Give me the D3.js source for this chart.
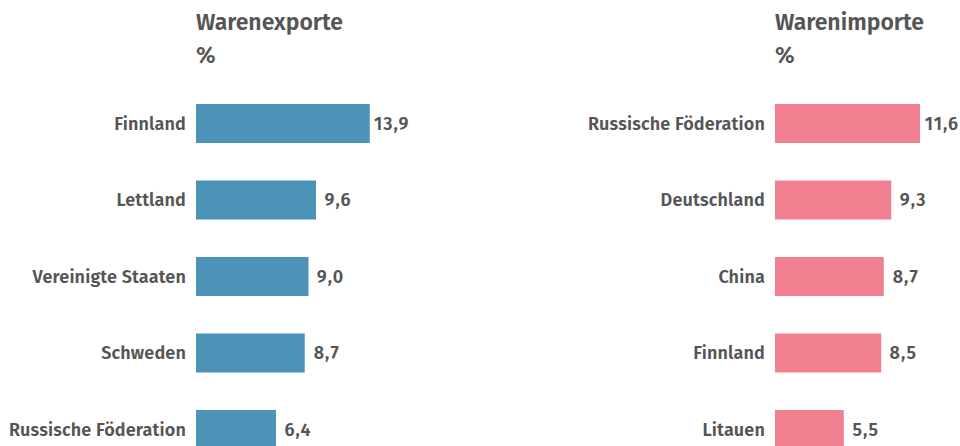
<!DOCTYPE html>
<html><head><meta charset="utf-8">
<script src="https://cdn.jsdelivr.net/npm/d3@7"></script>
<style>
body{margin:0;background:#fff;}
text{font-family:"Fira Sans","Open Sans",sans-serif;fill:#555;}
</style></head>
<body><svg id="c" width="960" height="446"></svg>
<script>
const exportCountries = ["Finnland","Lettland","Vereinigte Staaten","Schweden","Russische Föderation"];
const exportValues = [13.9, 9.6, 9.0, 8.7, 6.4];
const importCountries = ["Russische Föderation","Deutschland","China","Finnland","Litauen"];
const importValues = [11.6, 9.3, 8.7, 8.5, 5.5];
const titles = ["Warenexporte","Warenimporte"];
const unit = "%";
const colors = ["#4d93b8","#f08090"];

const svg = d3.select("#c");
const fmt = v => d3.format(".1f")(v).replace(".", ",");

function panel(x0, title, cats, vals, color){
  const g = svg.append("g");
  const x = d3.scaleLinear().domain([0, 1]).range([x0, x0 + 12.5]);
  const y = d3.scaleBand().domain(cats).range([104, 449]).paddingInner(0.49).paddingOuter(0);
  g.append("text").attr("x", x0).attr("y", 30).attr("font-size", 23).attr("font-weight", 600).text(title);
  g.append("text").attr("x", x0).attr("y", 63).attr("font-size", 23).attr("font-weight", 600).text(unit);
  cats.forEach((c, i) => {
    const yy = y(c);
    g.append("text").attr("x", x(0) - 10).attr("y", yy + y.bandwidth()/2).attr("dy", "0.35em")
      .attr("text-anchor", "end").attr("font-size", 18).attr("font-weight", 600).attr("letter-spacing", 0.15).text(c);
    g.append("rect").attr("x", x(0)).attr("y", yy).attr("width", x(vals[i]) - x(0)).attr("height", y.bandwidth()).attr("fill", color);
    g.append("text").attr("x", x(vals[i]) + 22).attr("y", yy + y.bandwidth()/2).attr("dy", "0.35em")
      .attr("text-anchor", "middle").attr("font-size", 18).attr("font-weight", 600).attr("letter-spacing", 1).text(fmt(vals[i]));
  });
}
panel(196, titles[0], exportCountries, exportValues, colors[0]);
panel(775, titles[1], importCountries, importValues, colors[1]);
</script></body></html>
